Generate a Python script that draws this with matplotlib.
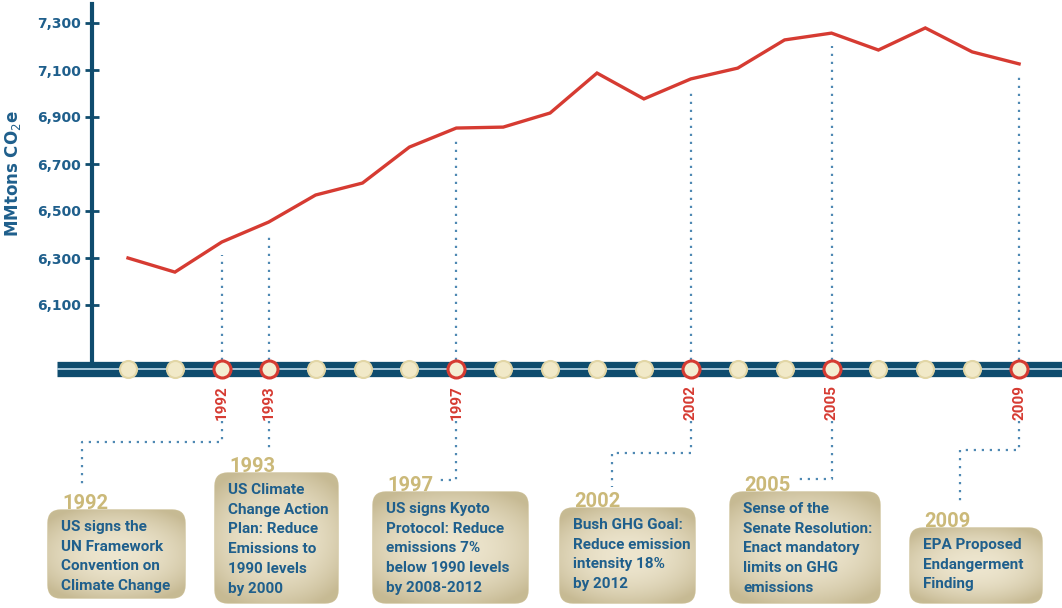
import matplotlib.pyplot as plt
import matplotlib.font_manager as fm
from matplotlib.patches import FancyBboxPatch
import numpy as np

years = list(range(1990, 2010))
emissions = [6300, 6240, 6368, 6453, 6568, 6619, 6772, 6853, 6857, 6917,
             7087, 6977, 7062, 7108, 7228, 7257, 7185, 7279, 7177, 7126]
ytick_values = [6100, 6300, 6500, 6700, 6900, 7100, 7300]
ytick_labels = ['6,100', '6,300', '6,500', '6,700', '6,900', '7,100', '7,300']

event_years = [1992, 1993, 1997, 2002, 2005, 2009]
event_labels = ['1992', '1993', '1997', '2002', '2005', '2009']
event_texts = [
    'US signs the\nUN Framework\nConvention on\nClimate Change',
    'US Climate\nChange Action\nPlan: Reduce\nEmissions to\n1990 levels\nby 2000',
    'US signs Kyoto\nProtocol: Reduce\nemissions 7%\nbelow 1990 levels\nby 2008-2012',
    'Bush GHG Goal:\nReduce emission\nintensity 18%\nby 2012',
    'Sense of the\nSenate Resolution:\nEnact mandatory\nlimits on GHG\nemissions',
    'EPA Proposed\nEndangerment\nFinding',
]

# layout in pixels (x right, y down)
W, H = 1062, 608
boxes = [(48, 510, 185, 598), (215, 473, 338, 603), (373, 492, 528, 603),
         (560, 508, 695, 603), (730, 492, 880, 603), (910, 528, 1042, 603)]
# connector: elbow y, horizontal end x (None = straight), end y
connectors = [(442, 82, 485), (452, None, None), (480, 440, None),
              (453, 612, 487), (479, 797, None), (450, 960, 503)]

BLUE = '#0f4c6e'
TEXT_BLUE = '#1f5f8c'
RED = '#d63b32'
TAN = '#cbb979'
DOT = '#4f89b3'

names = {f.name for f in fm.fontManager.ttflist}
narrow = 'Roboto' if 'Roboto' in names else 'DejaVu Sans'

# pixel <-> data mapping
px_year, x1990 = 46.9, 128
px_unit, y6100 = 47 / 200, 305
xlim = (1990 - x1990 / px_year, 1990 + (W - x1990) / px_year)
ylim = (6100 - (H - y6100) / px_unit, 6100 + y6100 / px_unit)


def dx(px):
    return xlim[0] + px / px_year


def dy(py):
    return ylim[1] - py / px_unit


fig = plt.figure(figsize=(W / 100, H / 100), dpi=100)
ax = fig.add_axes([0, 0, 1, 1])
ax.set_xlim(*xlim)
ax.set_ylim(*ylim)

timeline_y = dy(369)

# y axis
for s in ['top', 'right', 'bottom']:
    ax.spines[s].set_visible(False)
ax.spines['left'].set_position(('data', dx(92)))
ax.spines['left'].set_bounds(timeline_y, dy(4))
ax.spines['left'].set_linewidth(3)
ax.spines['left'].set_color(BLUE)
ax.set_xticks([])
ax.set_yticks(ytick_values)
ax.set_yticklabels(ytick_labels, fontweight='bold', fontsize=10, color=TEXT_BLUE)
ax.tick_params(axis='y', direction='inout', length=10, width=2, color=BLUE, pad=3)
ax.text(dx(13), dy(174), 'MMtons CO$_2$e', rotation=90, ha='center', va='center',
        fontsize=12, fontweight='bold', color=TEXT_BLUE)

# emissions line
ax.plot(years, emissions, color=RED, lw=2.4, zorder=4, solid_joinstyle='miter')

# dotted drops from line to timeline
ev_vals = [emissions[years.index(y)] for y in event_years]
ax.vlines(event_years, dy(360), np.array(ev_vals) - 55, colors=DOT, lw=1.6,
          linestyles=(0, (1, 2.6)), zorder=2)

# timeline bar
ax.axhline(timeline_y, xmin=57 / W, color=BLUE, lw=11, zorder=3, solid_capstyle='butt')
ax.axhline(timeline_y, xmin=57 / W, color='#a9c8da', lw=1.4, zorder=3, solid_capstyle='butt')
ax.scatter(years, [timeline_y] * len(years), s=150, facecolor='#f1e9c8',
           edgecolor='#e2d6a6', lw=1.5, zorder=5)
ax.scatter(event_years, [timeline_y] * len(event_years), s=150, facecolor='#f4edd2',
           edgecolor=RED, lw=2.2, zorder=6)

# red rotated year labels
for yr, lab in zip(event_years, event_labels):
    ax.text(yr, dy(403), lab, rotation=90, ha='center', va='center',
            fontsize=11, fontweight='bold', color=RED, family=narrow)

# connectors under labels
for yr, (ey, hx, vy) in zip(event_years, connectors):
    xs, ys = [yr, yr], [dy(421), dy(ey)]
    if hx is not None:
        xs.append(dx(hx))
        ys.append(dy(ey))
        if vy is not None:
            xs.append(dx(hx))
            ys.append(dy(vy))
    ax.plot(xs, ys, color=DOT, lw=1.6, ls=(0, (1, 2.6)), zorder=2)

# event boxes with soft gradient
gy, gx = np.mgrid[-1:1:80j, -1:1:120j]
shade = np.clip(1 - (0.55 * gx ** 2 + 0.75 * gy ** 2), 0, 1)
dark = np.array([0.78, 0.73, 0.58])
light = np.array([0.93, 0.90, 0.81])
grad = dark + (light - dark) * shade[..., None]

for (l, t, r, b), lab, txt in zip(boxes, event_labels, event_texts):
    patch = FancyBboxPatch((l / 100, (H - b) / 100), (r - l) / 100, (b - t) / 100,
                           boxstyle='round,pad=0,rounding_size=0.13',
                           transform=fig.dpi_scale_trans, facecolor='#d8cdaa',
                           edgecolor='#cfc39c', lw=1, zorder=3)
    ax.add_patch(patch)
    im = ax.imshow(grad, extent=(dx(l), dx(r), dy(b), dy(t)), aspect='auto',
                   zorder=3.5, interpolation='bilinear')
    im.set_clip_path(patch)
    ax.text(dx(l + 13), dy(t + 10), txt, ha='left', va='top', fontsize=11,
            fontweight='bold', color=TEXT_BLUE, family=narrow, linespacing=1.52, zorder=5)
    ax.text(dx(l + 14), dy(t - 1), lab, ha='left', va='baseline', fontsize=14.5,
            fontweight='bold', color=TAN, family=narrow, zorder=6)

ax.set_xlim(*xlim)
ax.set_ylim(*ylim)
fig.savefig('out.png', dpi=100)
